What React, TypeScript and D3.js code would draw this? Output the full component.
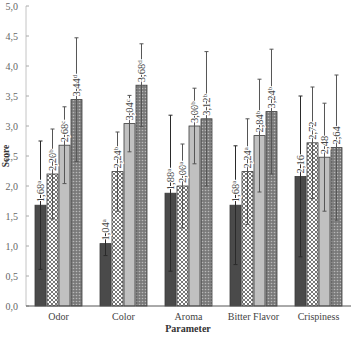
import React from 'react';
import * as d3 from 'd3';

const categories = ['Odor', 'Color', 'Aroma', 'Bitter Flavor', 'Crispiness'];
const seriesKeys = ['s1', 's2', 's3', 's4'];

const means1 = [1.68, 1.04, 1.88, 1.68, 2.16];
const means2 = [2.2, 2.24, 2.0, 2.24, 2.72];
const means3 = [2.68, 3.04, 3.0, 2.84, 2.48];
const means4 = [3.44, 3.68, 3.12, 3.24, 2.64];

const sd1 = [1.07, 0.2, 1.3, 0.99, 1.34];
const sd2 = [0.75, 0.66, 0.7, 0.88, 0.93];
const sd3 = [0.64, 0.47, 0.63, 0.94, 0.9];
const sd4 = [1.03, 0.69, 1.12, 1.04, 1.21];

const letters1 = ['a', 'a', 'a', 'a', ''];
const letters2 = ['b', 'b', 'a', 'a', ''];
const letters3 = ['c', 'c', 'b', 'b', ''];
const letters4 = ['d', 'd', 'b', 'b', ''];

const yTicks = [0, 0.5, 1, 1.5, 2, 2.5, 3, 3.5, 4, 4.5, 5];

const W = 351;
const H = 344;
const left = 26;
const bottom = 306;
const top = 6;

const fills = ['#4a4a4a', 'url(#hatch)', '#c0c0c0', 'url(#dots)'];

export default function App() {
  const x = d3.scaleBand<string>().domain(categories).range([left, W]).padding(0);
  const xs = d3
    .scaleBand<string>()
    .domain(seriesKeys)
    .range([0, x.bandwidth()])
    .paddingInner(0.083)
    .paddingOuter(0.75);
  const y = d3.scaleLinear().domain([0, 5]).range([bottom, top]);

  const means = [means1, means2, means3, means4];
  const sds = [sd1, sd2, sd3, sd4];
  const letters = [letters1, letters2, letters3, letters4];
  const fmt = (v: number) => d3.format('.2f')(v).replace('.', ',');
  const fmtTick = (v: number) => d3.format('.1f')(v).replace('.', ',');
  const font = '"Liberation Serif", "Times New Roman", serif';

  return (
    <svg
      width={W}
      height={H}
      style={{ position: 'absolute', left: 0, top: 0, background: '#fff' }}
      fontFamily={font}
    >
      <defs>
        <pattern id="hatch" width="4" height="4" patternUnits="userSpaceOnUse">
          <rect width="4" height="4" fill="#fff" />
          <path d="M0,0 L4,4 M4,0 L0,4" stroke="#555" strokeWidth="0.8" />
        </pattern>
        <pattern id="dots" width="3" height="3" patternUnits="userSpaceOnUse">
          <rect width="3" height="3" fill="#7a7a7a" />
          <circle cx="1.5" cy="1.5" r="0.8" fill="#b8b8b8" />
        </pattern>
      </defs>

      {/* y axis */}
      <line x1={left} x2={left} y1={top} y2={bottom} stroke="#c4c4c4" strokeWidth={1} />
      {yTicks.map((t) => (
        <g key={t}>
          <line x1={left} x2={left + 3} y1={y(t)} y2={y(t)} stroke="#aaa" />
          <text x={18} y={y(t) + 3.5} textAnchor="end" fontSize={10} fill="#666">
            {fmtTick(t)}
          </text>
        </g>
      ))}
      <text
        transform={`translate(9,${(top + bottom) / 2}) rotate(-90)`}
        textAnchor="middle"
        fontSize={9.5}
        fontWeight="bold"
        fill="#333"
      >
        Score
      </text>

      {/* bars */}
      {categories.map((c, ci) =>
        seriesKeys.map((s, si) => {
          const bx = (x(c) as number) + (xs(s) as number);
          const v = means[si][ci];
          return (
            <rect
              key={c + s}
              x={bx}
              y={y(v)}
              width={xs.bandwidth()}
              height={bottom - y(v)}
              fill={fills[si]}
              stroke="#3a3a3a"
              strokeWidth={0.8}
            />
          );
        })
      )}

      {/* error bars */}
      {categories.map((c, ci) =>
        seriesKeys.map((s, si) => {
          const cx = (x(c) as number) + (xs(s) as number) + xs.bandwidth() / 2;
          const v = means[si][ci];
          const e = sds[si][ci];
          const col = si === 0 ? '#2a2a2a' : '#555';
          return (
            <g key={'e' + c + s} stroke={col} strokeWidth={1}>
              <line x1={cx} x2={cx} y1={y(v + e)} y2={y(v - e)} />
              <line x1={cx - 2} x2={cx + 2} y1={y(v + e)} y2={y(v + e)} />
              <line x1={cx - 2} x2={cx + 2} y1={y(v - e)} y2={y(v - e)} />
            </g>
          );
        })
      )}

      {/* value labels */}
      {categories.map((c, ci) =>
        seriesKeys.map((s, si) => {
          const cx = (x(c) as number) + (xs(s) as number) + xs.bandwidth() / 2;
          const v = means[si][ci];
          return (
            <text
              key={'l' + c + s}
              transform={`translate(${cx + 3.5},${y(v) - 3}) rotate(-90)`}
              fontSize={10.5}
              fill="#444"
              stroke="#fff"
              strokeWidth={2}
              style={{ paintOrder: 'stroke' }}
            >
              {fmt(v)}
              {letters[si][ci] ? (
                <tspan fontSize={7} dy={-3}>
                  {letters[si][ci]}
                </tspan>
              ) : null}
            </text>
          );
        })
      )}

      {/* x axis */}
      <line x1={left} x2={W} y1={bottom} y2={bottom} stroke="#555" strokeWidth={1} />
      {categories.map((c) => (
        <text
          key={'x' + c}
          x={(x(c) as number) + x.bandwidth() / 2}
          y={320}
          textAnchor="middle"
          fontSize={10}
          fill="#444"
        >
          {c}
        </text>
      ))}
      <text x={188} y={332} textAnchor="middle" fontSize={10} fontWeight="bold" fill="#333">
        Parameter
      </text>
    </svg>
  );
}
